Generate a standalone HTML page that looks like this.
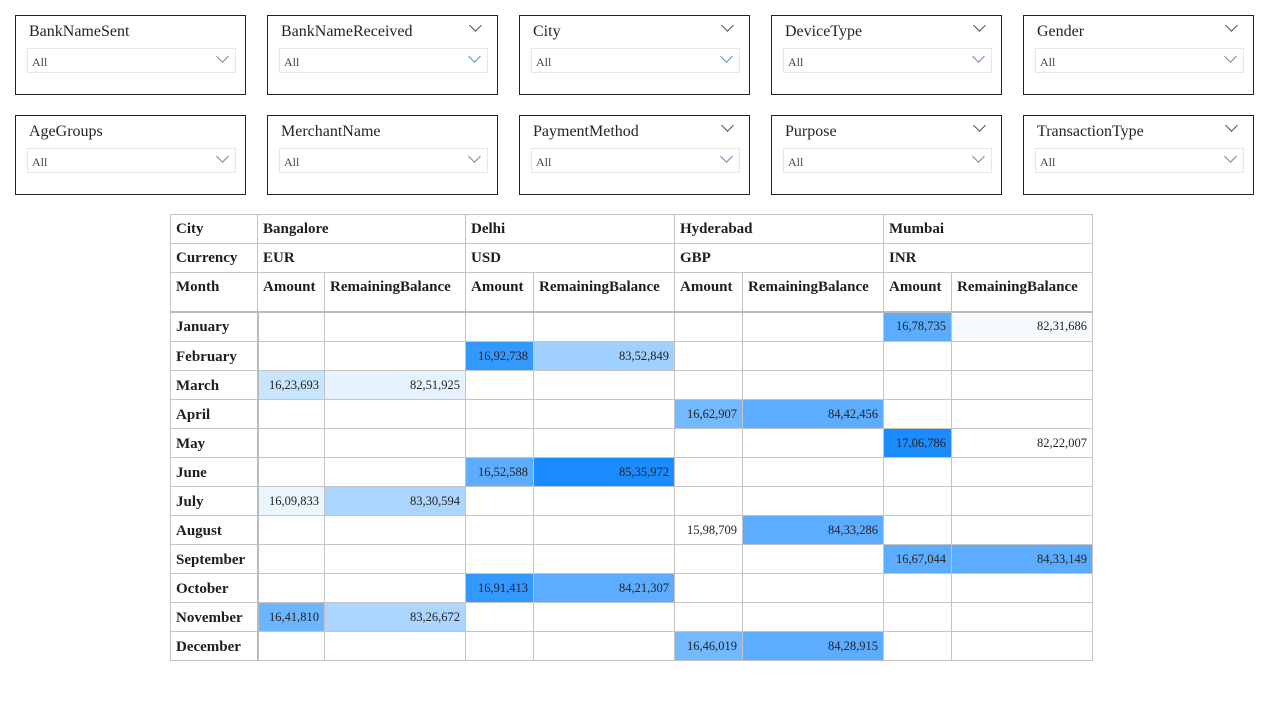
<!DOCTYPE html>
<html><head><meta charset="utf-8"><style>
body{margin:0;width:1271px;height:709px;background:#fff;font-family:"Liberation Serif",serif;position:relative;overflow:hidden}
.s{position:absolute;width:229px;height:78px;border:1px solid #222;box-sizing:content-box}
.s .t{position:absolute;left:13px;top:7px;font-size:16px;color:#252423}
.s .d{position:absolute;left:11px;top:32px;width:207px;height:23px;border:1px solid #e6e6e6}
.s .d span{position:absolute;left:4px;top:6px;font-size:12px;color:#444}
.s .c{position:absolute;right:8px;top:3px;width:8px;height:8px;border-right:1px solid #6a8cae;border-bottom:1px solid #6a8cae;transform:rotate(45deg)}
.s .h{position:absolute;right:17px;top:5px;width:8px;height:8px;border-right:1px solid #555;border-bottom:1px solid #555;transform:rotate(45deg)}
table{position:absolute;left:170px;top:214px;border-collapse:collapse;table-layout:fixed}
td{border:1px solid #c4c4c4;padding:0 5px;font-size:12.5px;color:#252423;height:29px;box-sizing:border-box;white-space:nowrap;overflow:hidden;vertical-align:middle}
td.b{font-weight:bold;font-size:15px;color:#1e1e1e}
tr.m td{height:39px;vertical-align:top;padding-top:6px;border-bottom:2px solid #bbb}
td.l{border-right:2px solid #bbb;padding-top:2px}
td.r{text-align:right}
td.a{text-align:right}
</style></head><body>
<div class="s" style="left:15px;top:15px"><div class="t">BankNameSent</div><div class="d"><span>All</span><div class="c"></div></div></div>
<div class="s" style="left:267px;top:15px"><div class="t">BankNameReceived</div><div class="h"></div><div class="d"><span>All</span><div class="c"></div></div></div>
<div class="s" style="left:519px;top:15px"><div class="t">City</div><div class="h"></div><div class="d"><span>All</span><div class="c"></div></div></div>
<div class="s" style="left:771px;top:15px"><div class="t">DeviceType</div><div class="h"></div><div class="d"><span>All</span><div class="c"></div></div></div>
<div class="s" style="left:1023px;top:15px"><div class="t">Gender</div><div class="h"></div><div class="d"><span>All</span><div class="c"></div></div></div>
<div class="s" style="left:15px;top:115px"><div class="t">AgeGroups</div><div class="d"><span>All</span><div class="c"></div></div></div>
<div class="s" style="left:267px;top:115px"><div class="t">MerchantName</div><div class="d"><span>All</span><div class="c"></div></div></div>
<div class="s" style="left:519px;top:115px"><div class="t">PaymentMethod</div><div class="h"></div><div class="d"><span>All</span><div class="c"></div></div></div>
<div class="s" style="left:771px;top:115px"><div class="t">Purpose</div><div class="h"></div><div class="d"><span>All</span><div class="c"></div></div></div>
<div class="s" style="left:1023px;top:115px"><div class="t">TransactionType</div><div class="h"></div><div class="d"><span>All</span><div class="c"></div></div></div>

<table>
<colgroup><col style="width:87px"><col style="width:67px"><col style="width:141px"><col style="width:68px"><col style="width:141px"><col style="width:68px"><col style="width:141px"><col style="width:68px"><col style="width:141px"></colgroup>
<tr><td class="b">City</td><td class="b" colspan="2">Bangalore</td><td class="b" colspan="2">Delhi</td><td class="b" colspan="2">Hyderabad</td><td class="b" colspan="2">Mumbai</td></tr>
<tr><td class="b">Currency</td><td class="b" colspan="2">EUR</td><td class="b" colspan="2">USD</td><td class="b" colspan="2">GBP</td><td class="b" colspan="2">INR</td></tr>
<tr class="m"><td class="b">Month</td><td class="b">Amount</td><td class="b">RemainingBalance</td><td class="b">Amount</td><td class="b">RemainingBalance</td><td class="b">Amount</td><td class="b">RemainingBalance</td><td class="b">Amount</td><td class="b">RemainingBalance</td></tr>
<tr><td class="b l" style="height:30px">January</td><td></td><td></td><td></td><td></td><td></td><td></td><td class="a" style="background:#5cadff">16,78,735</td><td class="r" style="background:#f5faff">82,31,686</td></tr>
<tr><td class="b l">February</td><td></td><td></td><td class="a" style="background:#3399ff">16,92,738</td><td class="r" style="background:#a0d0ff">83,52,849</td><td></td><td></td><td></td><td></td></tr>
<tr><td class="b l">March</td><td class="a" style="background:#c8e4ff">16,23,693</td><td class="r" style="background:#e6f3ff">82,51,925</td><td></td><td></td><td></td><td></td><td></td><td></td></tr>
<tr><td class="b l">April</td><td></td><td></td><td></td><td></td><td class="a" style="background:#73b9ff">16,62,907</td><td class="r" style="background:#5cadff">84,42,456</td><td></td><td></td></tr>
<tr><td class="b l">May</td><td></td><td></td><td></td><td></td><td></td><td></td><td class="a" style="background:#1a8cff">17,06,786</td><td class="r">82,22,007</td></tr>
<tr><td class="b l">June</td><td></td><td></td><td class="a" style="background:#5cadff">16,52,588</td><td class="r" style="background:#1a8cff">85,35,972</td><td></td><td></td><td></td><td></td></tr>
<tr><td class="b l">July</td><td class="a" style="background:#eaf5ff">16,09,833</td><td class="r" style="background:#acd6ff">83,30,594</td><td></td><td></td><td></td><td></td><td></td><td></td></tr>
<tr><td class="b l">August</td><td></td><td></td><td></td><td></td><td class="a">15,98,709</td><td class="r" style="background:#5cadff">84,33,286</td><td></td><td></td></tr>
<tr><td class="b l">September</td><td></td><td></td><td></td><td></td><td></td><td></td><td class="a" style="background:#5cadff">16,67,044</td><td class="r" style="background:#5cadff">84,33,149</td></tr>
<tr><td class="b l">October</td><td></td><td></td><td class="a" style="background:#3399ff">16,91,413</td><td class="r" style="background:#5cadff">84,21,307</td><td></td><td></td><td></td><td></td></tr>
<tr><td class="b l">November</td><td class="a" style="background:#6cb5ff">16,41,810</td><td class="r" style="background:#acd6ff">83,26,672</td><td></td><td></td><td></td><td></td><td></td><td></td></tr>
<tr><td class="b l">December</td><td></td><td></td><td></td><td></td><td class="a" style="background:#73b9ff">16,46,019</td><td class="r" style="background:#5cadff">84,28,915</td><td></td><td></td></tr>
</table>
</body></html>
